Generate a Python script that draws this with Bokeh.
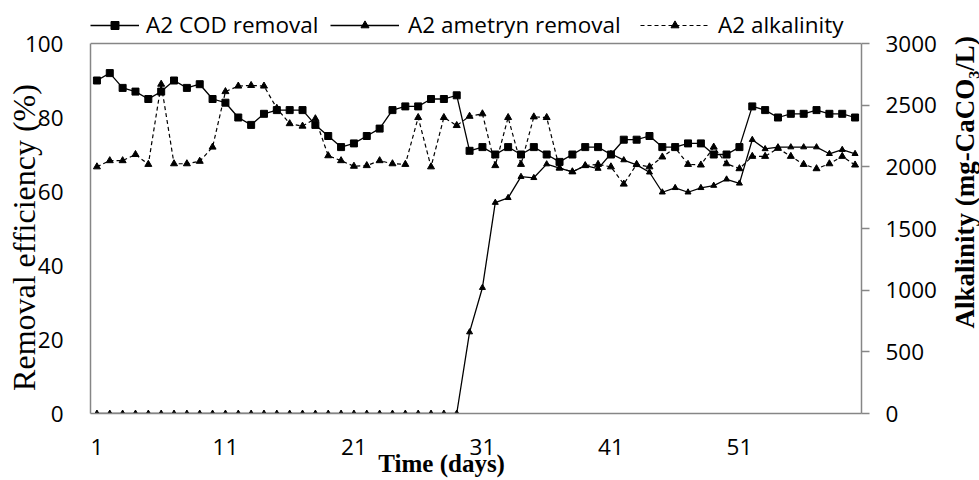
from bokeh.plotting import figure
from bokeh.layouts import row
from bokeh.models import Range1d, LinearAxis, FixedTicker, Legend, LegendItem, Span, Label
from bokeh.embed import file_html
from bokeh.resources import INLINE

days = list(range(1, 61))
cod_removal = [90, 92, 88, 87, 85, 87, 90, 88, 89, 85,
               84, 80, 78, 81, 82, 82, 82, 78, 75, 72,
               73, 75, 77, 82, 83, 83, 85, 85, 86, 71,
               72, 70, 72, 70, 72, 70, 68, 70, 72, 72,
               70, 74, 74, 75, 72, 72, 73, 73, 70, 70,
               72, 83, 82, 80, 81, 81, 82, 81, 81, 80]
ametryn_removal = [0] * 29 + [22, 34, 57, 58.3, 64, 63.7, 67.4, 66.3, 65.3, 67, 66.2,
                              70.2, 68.5, 67.2, 65.2, 59.8, 61, 59.8, 61, 61.6, 63.3,
                              62.2, 74, 71.5, 72, 72, 72, 72, 70.2, 71.3, 70.2]
alkalinity = [2000, 2050, 2050, 2100, 2020, 2670, 2025, 2025, 2045, 2160,
              2610, 2655, 2660, 2655, 2475, 2350, 2330, 2390, 2090, 2050,
              2005, 2010, 2050, 2025, 2020, 2400, 2000, 2400, 2335, 2410,
              2430, 2010, 2400, 2020, 2405, 2400, 1990, 1960, 2010, 2020,
              2000, 1860, 2020, 2000, 2080, 2155, 2020, 2015, 2160, 2025,
              1985, 2085, 2085, 2150, 2085, 2020, 1985, 2025, 2085, 2015]
x_ticks = [1, 11, 21, 31, 41, 51]
left_ticks = [0, 20, 40, 60, 80, 100]
right_ticks = [0, 500, 1000, 1500, 2000, 2500, 3000]

AXIS = "#868686"
SANS = "Open Sans"
SERIF = "Liberation Serif"
TICK_SIZE = "22.5px"
NBSP = "\u00a0"

# plot area: the data region is 0..100 / 0..3000; extra head-room above holds the legend
LEFT_MAX, RIGHT_MAX = 100, 3000
HEAD = 38 / 370  # fraction of the data height used for the legend strip
TITLE_STRIP = 40  # width of the strip on the right that carries the right axis title


def style_axis(ax, standoff, tick_out=0):
    ax.major_tick_out = tick_out
    ax.major_tick_in = 0
    ax.minor_tick_out = 0
    ax.minor_tick_in = 0
    ax.major_tick_line_color = AXIS
    ax.major_tick_line_width = 1.5
    ax.axis_line_color = AXIS
    ax.axis_line_width = 1.5
    ax.major_label_standoff = standoff
    ax.major_label_text_font = SANS
    ax.major_label_text_font_size = TICK_SIZE
    ax.major_label_text_color = "black"


def title_axis(ax, tick, text, size, style, standoff):
    # an axis that carries only a title (no visible line, ticks or tick labels)
    ax.ticker = FixedTicker(ticks=[tick])
    ax.axis_line_color = None
    ax.major_tick_line_color = None
    ax.minor_tick_line_color = None
    ax.major_tick_out = 0
    ax.major_tick_in = 0
    ax.minor_tick_out = 0
    ax.minor_tick_in = 0
    ax.major_label_standoff = 0
    ax.major_label_text_font_size = "1px"
    ax.major_label_text_alpha = 0
    ax.axis_label = text
    ax.axis_label_text_font = SERIF
    ax.axis_label_text_font_size = size
    ax.axis_label_text_font_style = style
    ax.axis_label_text_color = "black"
    ax.axis_label_standoff = standoff


p = figure(width=979 - TITLE_STRIP, height=480, output_backend="svg", toolbar_location=None,
           x_range=Range1d(0.5, 60.5), y_range=Range1d(0, LEFT_MAX * (1 + HEAD)),
           min_border_left=90, min_border_right=117 - TITLE_STRIP,
           min_border_top=5, min_border_bottom=67)
p.xgrid.visible = False
p.ygrid.visible = False
p.outline_line_color = None
p.background_fill_color = "white"
p.border_fill_color = "white"

xa = p.xaxis[0]
xa.ticker = FixedTicker(ticks=x_ticks)
style_axis(xa, 25)

ya = p.yaxis[0]
ya.ticker = FixedTicker(ticks=left_ticks)
ya.bounds = (0, LEFT_MAX)
style_axis(ya, 27)

p.extra_y_ranges = {"alk": Range1d(0, RIGHT_MAX * (1 + HEAD))}
ra = LinearAxis(y_range_name="alk", ticker=FixedTicker(ticks=right_ticks), bounds=(0, RIGHT_MAX))
style_axis(ra, 16, tick_out=8)
p.add_layout(ra, "right")

# top border of the plot area
p.add_layout(Span(location=LEFT_MAX, dimension="width", line_color=AXIS, line_width=1.5))

# title-only axes (placed outside the value axes)
lt = LinearAxis()
title_axis(lt, 50, "Removal efficiency (%)" + NBSP * 7, "32px", "normal", -20)
p.add_layout(lt, "left")

bt = LinearAxis()
title_axis(bt, 20, "Time (days)" + NBSP * 11, "25px", "bold", -8)
p.add_layout(bt, "below")

# series
r_cod_l = p.line(days, cod_removal, line_color="black", line_width=1.3)
r_cod_m = p.scatter(days, cod_removal, marker="square", size=7, color="black")
r_am_l = p.line(days, ametryn_removal, line_color="black", line_width=1.3)
r_am_m = p.scatter(days, ametryn_removal, marker="triangle", size=6, color="black")
r_alk_l = p.line(days, alkalinity, y_range_name="alk", line_color="black",
                 line_width=1.2, line_dash="4 3")
r_alk_m = p.scatter(days, alkalinity, y_range_name="alk", marker="triangle", size=7,
                    color="black")


def add_legend(label, renderers, x, glyph_w, standoff):
    lg = Legend(items=[LegendItem(label=label, renderers=renderers)],
                orientation="horizontal", location=(x, 373),
                glyph_width=glyph_w, glyph_height=20, label_standoff=standoff,
                padding=0, margin=0, spacing=0,
                border_line_alpha=0, background_fill_alpha=0,
                label_text_font=SANS, label_text_font_size=TICK_SIZE,
                label_text_color="black")
    p.add_layout(lg)


add_legend("A2 COD removal", [r_cod_l, r_cod_m], 0, 49, 7)
add_legend("A2 ametryn removal", [r_am_l, r_am_m], 240, 69, 9)
add_legend("A2 alkalinity", [r_alk_l, r_alk_m], 550, 69, 9)

# narrow strip on the right holding the secondary-axis title (reads bottom to top)
strip = figure(width=TITLE_STRIP, height=480, output_backend="svg", toolbar_location=None,
               x_range=Range1d(0, 1), y_range=Range1d(0, 1),
               x_axis_location=None, y_axis_location=None,
               min_border_left=0, min_border_right=0, min_border_top=0, min_border_bottom=0)
strip.xgrid.visible = False
strip.ygrid.visible = False
strip.outline_line_color = None
strip.background_fill_color = "white"
strip.border_fill_color = "white"
strip.add_layout(Label(x=0.63, y=(480 - 208) / 480, text="Alkalinity (mg-CaCO\u2083/L)",
                       angle=90, angle_units="deg", text_align="center", text_baseline="middle",
                       text_font=SERIF, text_font_size="27px", text_font_style="bold",
                       text_color="black"))

layout = row(p, strip, spacing=0)
open("out.html", "w").write(file_html(layout, INLINE))
